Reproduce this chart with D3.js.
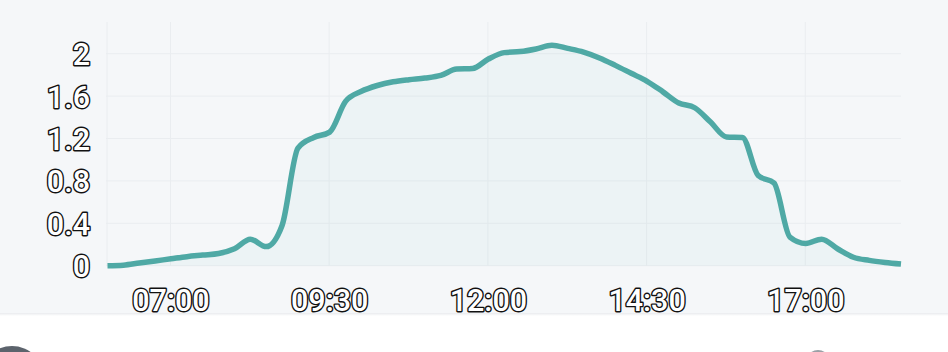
<!DOCTYPE html>
<html><head><meta charset="utf-8">
<script src="https://cdn.jsdelivr.net/npm/d3@7"></script>
<style>
html,body{margin:0;padding:0;background:#ffffff;}
svg{display:block;}
</style></head>
<body>
<svg id="chart" width="948" height="352"></svg>
<script>
const times = ["06:00","06:15","06:30","06:45","07:00","07:15","07:30","07:45","08:00","08:15","08:30","08:45",
"09:00","09:15","09:30","09:45","10:00","10:15","10:30","10:45","11:00","11:15","11:30","11:45",
"12:00","12:15","12:30","12:45","13:00","13:15","13:30","13:45","14:00","14:15","14:30","14:45",
"15:00","15:15","15:30","15:45","16:00","16:15","16:30","16:45","17:00","17:15","17:30","17:45",
"18:00","18:15","18:30"];
const values = [0,0.005,0.025,0.045,0.065,0.085,0.10,0.115,0.16,0.25,0.18,0.38,
1.11,1.21,1.26,1.55,1.645,1.70,1.735,1.755,1.77,1.795,1.855,1.86,
1.95,2.01,2.02,2.045,2.08,2.05,2.015,1.96,1.89,1.815,1.74,1.64,
1.535,1.49,1.355,1.215,1.21,0.85,0.78,0.27,0.21,0.25,0.16,0.08,
0.05,0.03,0.015];
const xTickLabels = ["07:00","09:30","12:00","14:30","17:00"];
const yTickValues = [0,0.4,0.8,1.2,1.6,2];

const svg = d3.select("#chart");
const W = 948, H = 352;
const parse = d3.timeParse("%H:%M");
const data = times.map((t,i)=>({t:parse(t), v:values[i]}));

const defs = svg.append("defs");
const g1 = defs.append("linearGradient").attr("id","shadow").attr("x1",0).attr("x2",0).attr("y1",0).attr("y2",1);
g1.append("stop").attr("offset",0).attr("stop-color","#e9ebee");
g1.append("stop").attr("offset",1).attr("stop-color","#ffffff");
svg.append("rect").attr("x",0).attr("y",0).attr("width",W).attr("height",313).attr("fill","#f5f7f9");
svg.append("rect").attr("x",0).attr("y",313).attr("width",W).attr("height",3).attr("fill","url(#shadow)");
svg.append("circle").attr("cx",12).attr("cy",378).attr("r",32).attr("fill","#5c636c");
svg.append("circle").attr("cx",818).attr("cy",362).attr("r",12).attr("fill","#9aa0a6");

const x = d3.scaleTime().domain([parse("06:00"), parse("18:30")]).range([107.5, 901]);
const y = d3.scaleLinear().domain([0, 2.2]).range([265.7, 32.5]);

const grid = svg.append("g");
grid.selectAll("line.h").data(yTickValues).join("line")
  .attr("x1",106).attr("x2",901)
  .attr("y1",d=>y(d)).attr("y2",d=>y(d))
  .attr("stroke","#eaedf0").attr("stroke-width",1);
const xTicks = xTickLabels.map(parse);
grid.selectAll("line.v").data([parse("06:00"), ...xTicks]).join("line")
  .attr("x1",d=>x(d)-0.5).attr("x2",d=>x(d)-0.5)
  .attr("y1",22).attr("y2",266)
  .attr("stroke","#eaedf0").attr("stroke-width",1);

const area = d3.area().x(d=>x(d.t)).y0(y(0)).y1(d=>y(d.v)).curve(d3.curveMonotoneX);
const line = d3.line().x(d=>x(d.t)).y(d=>y(d.v)).curve(d3.curveMonotoneX);

svg.append("path").datum(data).attr("d",area).attr("fill","rgba(80,170,180,0.05)");
svg.append("path").datum(data).attr("d",line).attr("fill","none")
  .attr("stroke","#4fa9a5").attr("stroke-width",5.5).attr("stroke-linejoin","round").attr("stroke-linecap","butt");

const textStyle = sel => sel
  .attr("font-family","Roboto, 'Noto Sans', sans-serif")
  .attr("font-size",30.5)
  .attr("font-weight",500)
  .attr("fill","#ffffff")
  .attr("stroke","#111111")
  .attr("stroke-width",2.8)
  .attr("stroke-linejoin","round")
  .attr("paint-order","stroke")
  .attr("dominant-baseline","central");

svg.append("g").selectAll("text").data(yTickValues).join("text")
  .attr("x",90).attr("y",d=>y(d)+1)
  .attr("text-anchor","end")
  .text(d=>d3.format("~g")(d))
  .call(textStyle);

svg.append("g").selectAll("text").data(xTicks).join("text")
  .attr("x",d=>x(d)).attr("y",300)
  .attr("text-anchor","middle")
  .text(d=>d3.timeFormat("%H:%M")(d))
  .call(textStyle);
</script>
</body></html>
